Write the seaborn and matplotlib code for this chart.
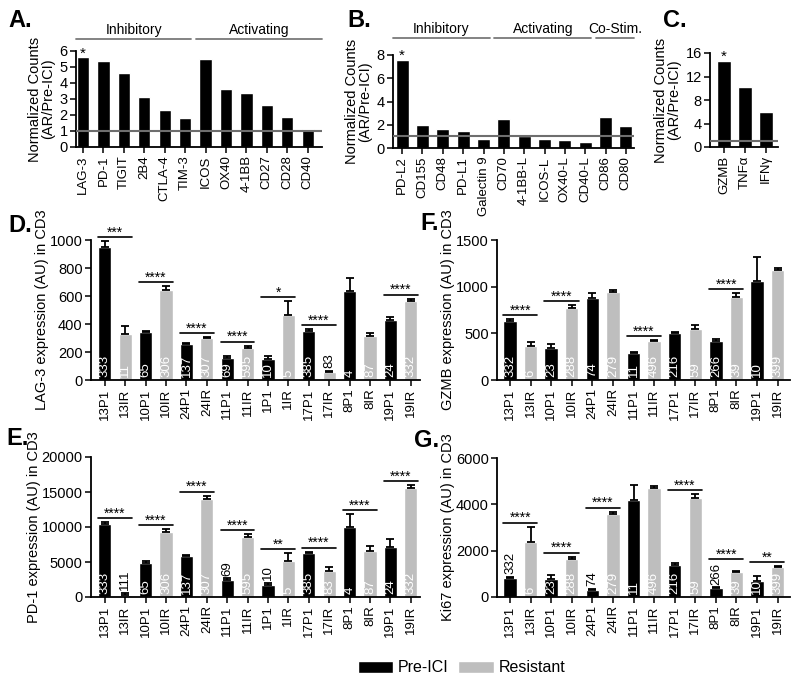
import numpy as np
import pandas as pd
import matplotlib
matplotlib.use('Agg')
import matplotlib.pyplot as plt
import matplotlib.transforms as mtrans
from matplotlib.patches import Patch
import seaborn as sns

# ---------------- data ----------------
a_labels = ['LAG-3', 'PD-1', 'TIGIT', '2B4', 'CTLA-4', 'TIM-3',
            'ICOS', 'OX40', '4-1BB', 'CD27', 'CD28', 'CD40']
a_values = [5.6, 5.4, 4.6, 3.1, 2.3, 1.8, 5.5, 3.6, 3.35, 2.65, 1.85, 1.1]
a_groups = [('Inhibitory', 0, 5), ('Activating', 6, 11)]

b_labels = ['PD-L2', 'CD155', 'CD48', 'PD-L1', 'Galectin 9', 'CD70',
            '4-1BB-L', 'ICOS-L', 'OX40-L', 'CD40-L', 'CD86', 'CD80']
b_values = [7.6, 1.95, 1.65, 1.45, 0.75, 2.5, 1.0, 0.75, 0.65, 0.5, 2.65, 1.9]
b_groups = [('Inhibitory', 0, 4), ('Activating', 5, 9), ('Co-Stim.', 10, 11)]

c_labels = ['GZMB', 'TNFα', 'IFNγ']
c_values = [14.7, 10.2, 5.9]

de_samples = ['13P1', '13IR', '10P1', '10IR', '24P1', '24IR', '11P1', '11IR',
              '1P1', '1IR', '17P1', '17IR', '8P1', '8IR', '19P1', '19IR']
fg_samples = ['13P1', '13IR', '10P1', '10IR', '24P1', '24IR', '11P1', '11IR',
              '17P1', '17IR', '8P1', '8IR', '19P1', '19IR']

d_values = [952, 330, 340, 643, 256, 299, 160, 232, 148, 464, 347, 60, 638, 311, 426, 566]
d_errors = [41, 53, 12, 28, 5, 7, 15, 12, 27, 100, 17, 7, 93, 24, 22, 14]
d_counts = ['333', '11', '65', '306', '137', '307', '69', '595', '10', '5', '385', '83', '4', '87', '24', '332']
d_sig = [(0, '***'), (2, '****'), (4, '****'), (6, '****'), (8, '*'), (10, '****'), (14, '****')]

e_values = [10430, 250, 4900, 9330, 5860, 13950, 2430, 8620, 1670, 5140, 6240, 3710, 9950, 6570, 7100, 15600]
e_errors = [280, 300, 290, 380, 140, 500, 240, 330, 380, 1100, 240, 620, 1910, 760, 1140, 400]
e_counts = ['333', '111', '65', '306', '137', '307', '69', '595', '10', '5', '385', '83', '4', '87', '24', '332']
e_sig = [(0, '****'), (2, '****'), (4, '****'), (6, '****'), (8, '**'), (10, '****'), (12, '****'), (14, '****')]

f_values = [636, 364, 340, 768, 879, 940, 285, 418, 500, 543, 420, 894, 1057, 1181]
f_errors = [18, 43, 50, 36, 50, 25, 15, 8, 18, 45, 18, 35, 262, 20]
f_counts = ['332', '6', '23', '288', '74', '279', '11', '496', '216', '59', '266', '39', '10', '399']
f_sig = [(0, '****'), (2, '****'), (6, '****'), (10, '****')]

g_values = [806, 2389, 777, 1626, 302, 3568, 4187, 4719, 1367, 4288, 374, 1094, 691, 1309]
g_errors = [72, 647, 173, 115, 43, 115, 647, 72, 115, 158, 43, 43, 230, 29]
g_counts = ['332', '6', '23', '288', '74', '279', '11', '496', '216', '59', '266', '39', '10', '399']
g_sig = [(0, '****'), (2, '****'), (4, '****'), (8, '****'), (10, '****'), (12, '**')]

# count labels that sit above the bar (style)
d_above = {'17IR'}
e_above = {'13IR', '11P1', '1P1'}
f_above = set()
g_above = {'13P1', '24P1', '8P1'}

# ---------------- style ----------------
sns.set_style('ticks')
plt.rcParams['font.family'] = ['Liberation Sans', 'DejaVu Sans']
plt.rcParams.update({
    'axes.edgecolor': 'black', 'axes.linewidth': 1.3,
    'xtick.color': 'black', 'ytick.color': 'black',
    'xtick.major.size': 4, 'ytick.major.size': 4,
    'xtick.major.width': 1.1, 'ytick.major.width': 1.1,
    'xtick.major.pad': 2, 'ytick.major.pad': 2,
    'text.color': 'black', 'axes.labelcolor': 'black',
})
BLACK = '#000000'
GREY = '#bebebe'
PAL = {'Pre-ICI': BLACK, 'Resistant': GREY}

W, H = 800, 684
fig = plt.figure(figsize=(W / 100, H / 100), dpi=100)


def rect(l, t, r, b):
    return [l / W, 1 - b / H, (r - l) / W, (b - t) / H]


def fy(px):
    return 1 - px / H


def ratio_panel(ax, labels, values, yticks, xlim, width, groups=None, line_y=None, text_y=None):
    sns.barplot(x=labels, y=values, order=labels, color=BLACK, saturation=1,
                width=width, ax=ax)
    ax.set_xlim(*xlim)
    ax.set_ylim(yticks[0], yticks[-1])
    ax.set_yticks(yticks)
    ax.tick_params(axis='y', labelsize=10.5)
    ax.tick_params(axis='x', labelsize=9.5, rotation=90)
    ax.axhline(1, color='#6e6e6e', lw=1.5, zorder=3)
    ax.set_xlabel('')
    ax.set_ylabel('Normalized Counts\n(AR/Pre-ICI)', fontsize=10.5, linespacing=0.95, labelpad=3)
    sns.despine(ax=ax)
    ax.annotate('*', (0, values[0]), ha='center', va='baseline', fontsize=11)
    if groups:
        tr = mtrans.blended_transform_factory(ax.transData, fig.transFigure)
        for k, (name, s, e) in enumerate(groups):
            x0 = xlim[0] if k == 0 else s - 0.47
            x1 = xlim[1] if k == len(groups) - 1 else e + 0.3
            ax.plot([x0, x1], [fy(line_y)] * 2, color='#7a7a7a', lw=1.3,
                    transform=tr, clip_on=False)
            ax.text((x0 + x1) / 2, fy(text_y), name, ha='center', va='baseline',
                    fontsize=10, transform=tr)


def expr_panel(ax, samples, values, errors, counts, sig, above, yticks, xlim, ylabel, ax_px_h=140):
    df = pd.DataFrame({'sample': samples, 'value': values,
                       'group': ['Pre-ICI' if s.endswith('P1') else 'Resistant' for s in samples]})
    sns.barplot(data=df, x='sample', y='value', hue='group', order=samples, palette=PAL,
                dodge=False, width=0.65, saturation=1, errorbar=None, legend=False, ax=ax)
    n = len(samples)
    xs = np.arange(n)
    vals = np.array(values, float)
    errs = np.array(errors, float)
    ax.errorbar(xs, vals, yerr=[np.zeros(n), errs], fmt='none', ecolor='black',
                elinewidth=1.3, capsize=3, capthick=1.3, zorder=4)
    span = yticks[-1] - yticks[0]
    per_px = span / ax_px_h
    tops = vals + errs
    for i, (s, c) in enumerate(zip(samples, counts)):
        if s in above:
            ax.annotate(c, (i, vals[i] + errs[i]), xytext=(0, 2), textcoords='offset points',
                        rotation=90, ha='center', va='bottom', fontsize=9.5, color='black',
                        annotation_clip=False)
            tops[i] = vals[i] + errs[i] + (3 + 7 * len(c)) * per_px
        else:
            ax.annotate(c, (i, 0), xytext=(0, 2), textcoords='offset points',
                        rotation=90, ha='center', va='bottom', fontsize=9.5, color='white',
                        zorder=5)
    for i, lab in sig:
        y = max(tops[i], tops[i + 1]) + 0.028 * span
        ax.plot([i - 0.33, i + 1.33], [y, y], color='black', lw=1.2, clip_on=False)
        ax.annotate(lab, ((2 * i + 1) / 2, y), xytext=(0, 0.5), textcoords='offset points',
                    ha='center', va='baseline', fontsize=10, annotation_clip=False)
    ax.set_xlim(*xlim)
    ax.set_ylim(yticks[0], yticks[-1])
    ax.set_yticks(yticks)
    ax.tick_params(axis='y', labelsize=10.5)
    ax.tick_params(axis='x', labelsize=9.5, rotation=90)
    ax.set_xlabel('')
    ax.set_ylabel(ylabel, fontsize=10.5, labelpad=0.5)
    sns.despine(ax=ax)


axA = fig.add_axes(rect(76, 51, 322, 147))
ratio_panel(axA, a_labels, a_values, [0, 1, 2, 3, 4, 5, 6], (-0.34, 11.7), 0.6,
            a_groups, line_y=39, text_y=34)

axB = fig.add_axes(rect(393, 55, 634, 148))
ratio_panel(axB, b_labels, b_values, [0, 2, 4, 6, 8], (-0.45, 11.4), 0.64,
            b_groups, line_y=38, text_y=33)

axC = fig.add_axes(rect(710, 53, 778, 147))
ratio_panel(axC, c_labels, c_values, [0, 4, 8, 12, 16], (-0.67, 2.57), 0.66)

axD = fig.add_axes(rect(91, 240, 420, 380))
expr_panel(axD, de_samples, d_values, d_errors, d_counts, d_sig, d_above,
           [0, 200, 400, 600, 800, 1000], (-0.68, 15.45), 'LAG-3 expression (AU) in CD3')

axE = fig.add_axes(rect(91, 457, 420, 597))
expr_panel(axE, de_samples, e_values, e_errors, e_counts, e_sig, e_above,
           [0, 5000, 10000, 15000, 20000], (-0.68, 15.45), 'PD-1 expression (AU) in CD3')

axF = fig.add_axes(rect(497, 240, 790, 380))
expr_panel(axF, fg_samples, f_values, f_errors, f_counts, f_sig, f_above,
           [0, 500, 1000, 1500], (-0.63, 13.6), 'GZMB expression (AU) in CD3')

axG = fig.add_axes(rect(497, 458, 790, 597))
expr_panel(axG, fg_samples, g_values, g_errors, g_counts, g_sig, g_above,
           [0, 2000, 4000, 6000], (-0.63, 13.6), 'Ki67 expression (AU) in CD3', ax_px_h=139)

for lab, x, yb in [('A.', 8, 27), ('B.', 347, 27), ('C.', 663, 27), ('D.', 8, 232),
                   ('E.', 6, 445), ('F.', 420, 230), ('G.', 414, 447)]:
    fig.text(x / W, fy(yb), lab, fontsize=17, fontweight='bold', va='baseline', ha='left')

fig.legend(handles=[Patch(facecolor=BLACK), Patch(facecolor=GREY)],
           labels=['Pre-ICI', 'Resistant'], loc='center', bbox_to_anchor=(0.577, fy(668)),
           ncol=2, frameon=False, fontsize=11.5, handlelength=2.2, handleheight=0.85,
           handletextpad=0.3, columnspacing=0.6)

fig.savefig('out.png', dpi=100)
